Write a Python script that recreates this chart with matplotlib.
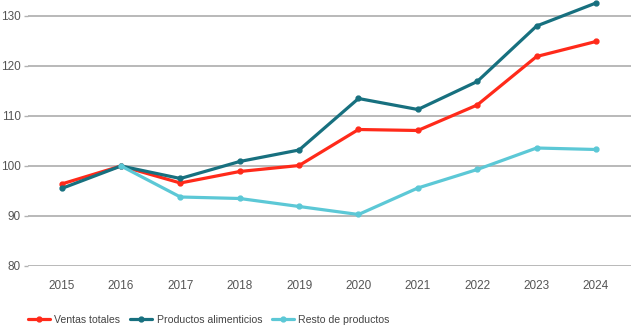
import numpy as np
import matplotlib.pyplot as plt

years = [2015, 2016, 2017, 2018, 2019, 2020, 2021, 2022, 2023, 2024]
ventas_totales = [96.4, 100.0, 96.6, 98.9, 100.1, 107.3, 107.1, 112.2, 121.9, 124.9]
productos_alimenticios = [95.5, 100.0, 97.5, 100.9, 103.2, 113.5, 111.3, 116.9, 128.0, 132.6]
resto_productos = [np.nan, 100.0, 93.8, 93.5, 91.9, 90.3, 95.6, 99.3, 103.6, 103.3]

plt.rcParams['font.family'] = 'Liberation Sans'

fig = plt.figure(figsize=(6.31, 3.29), dpi=100)
ax = fig.add_axes([0.044, 0.1915, 0.956, 0.8085])

series = [
    (ventas_totales, '#ff2a1a', 'Ventas totales'),
    (productos_alimenticios, '#17707f', 'Productos alimenticios'),
    (resto_productos, '#5cc8d6', 'Resto de productos'),
]
for vals, col, lab in series:
    ax.plot(years, vals, color=col, lw=2.3, marker='o', ms=3.5,
            label=lab, solid_capstyle='round', zorder=3)

ax.set_xlim(2014.43, 2024.59)
ax.set_ylim(80, 133.2)
ax.set_xticks(years)
ax.set_yticks([80, 90, 100, 110, 120, 130])
ax.grid(axis='y', color='#b3b3b3', lw=1.3)
ax.set_axisbelow(True)
for s in ax.spines.values():
    s.set_visible(False)
ax.tick_params(axis='x', length=0, pad=10, labelsize=8.5, labelcolor='#555555')
ax.tick_params(axis='y', length=3, width=1, color='#b3b3b3', pad=2,
               labelsize=8.5, labelcolor='#555555')

ax.legend(loc='center left', bbox_to_anchor=(0.0, -0.203), ncol=3,
          frameon=False, fontsize=7.6, handlelength=2.1, handletextpad=0.4,
          columnspacing=0.95, borderpad=0, borderaxespad=0,
          labelcolor='#444444')

fig.savefig('out.png', dpi=100)
